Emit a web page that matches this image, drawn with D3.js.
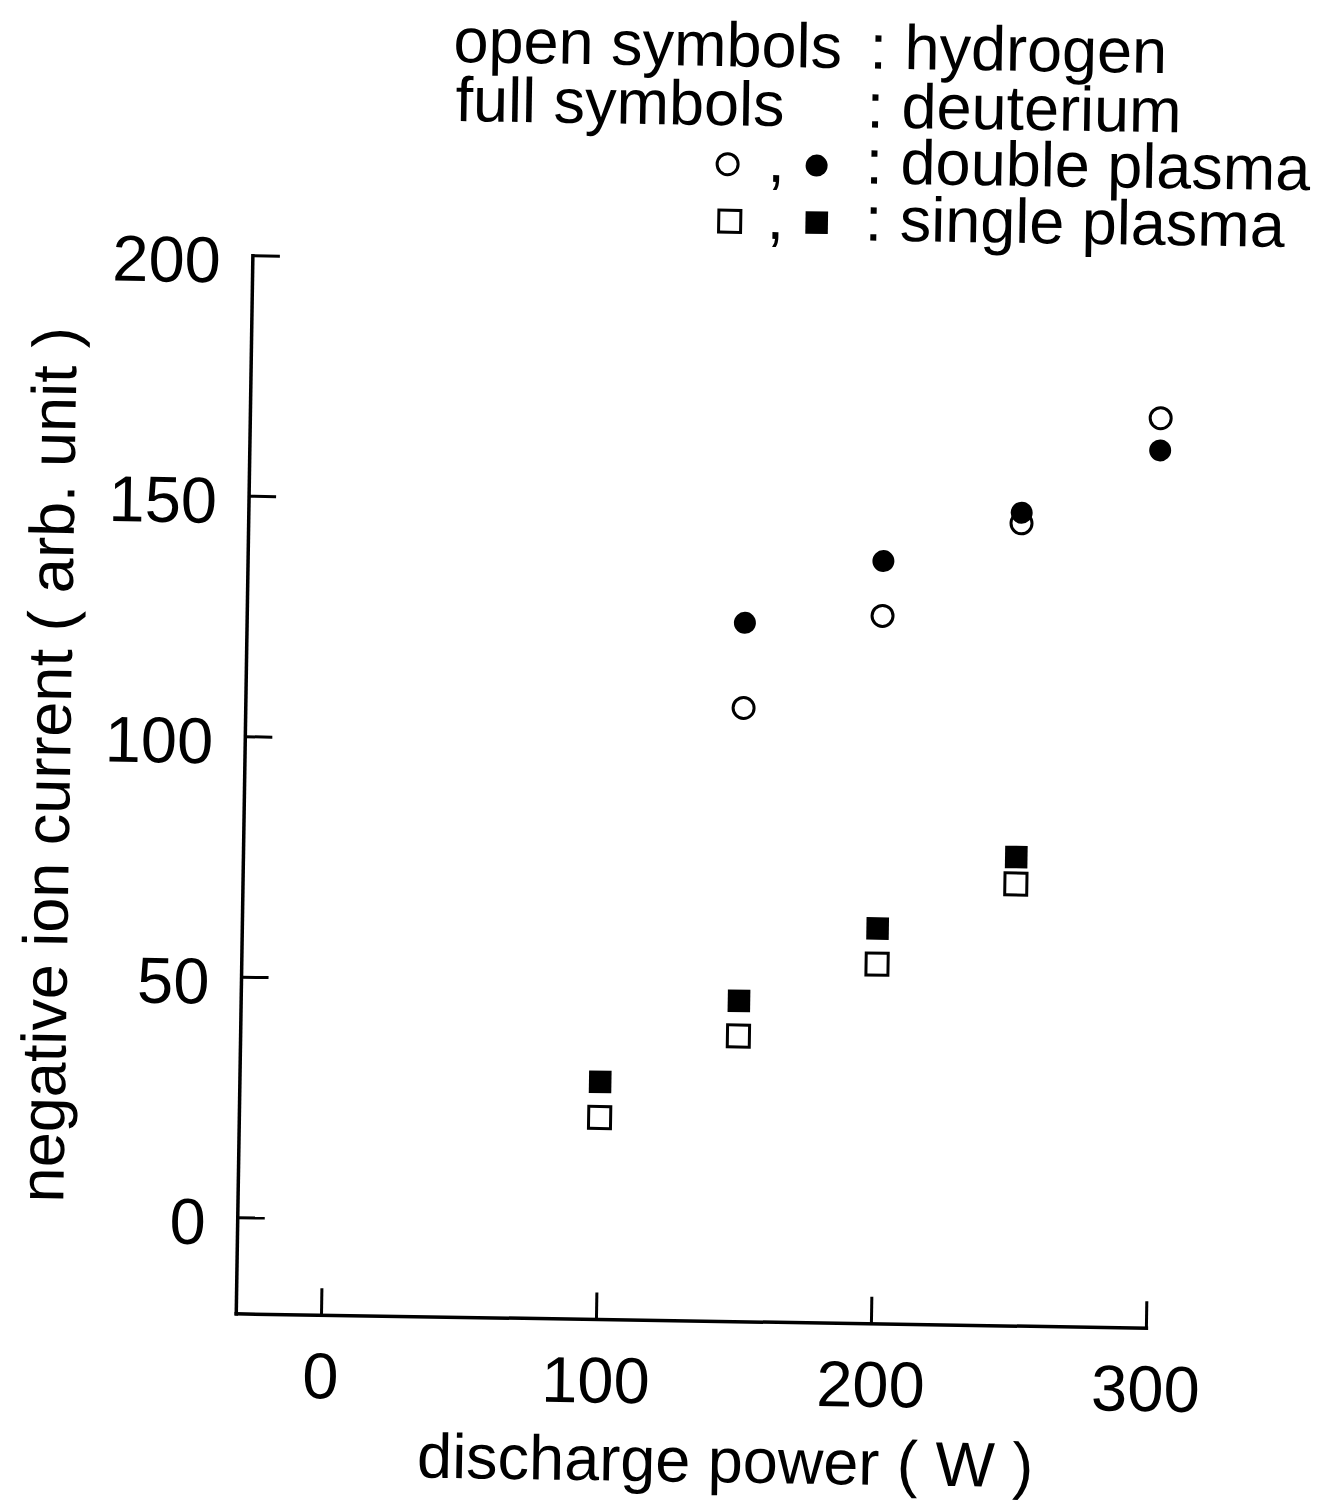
<!DOCTYPE html>
<html>
<head>
<meta charset="utf-8">
<script src="https://cdn.jsdelivr.net/npm/d3@7/dist/d3.min.js"></script>
<style>
  html, body { margin: 0; padding: 0; background: #fff; }
  svg { display: block; }
  text { font-family: "Liberation Sans", Arial, Helvetica, sans-serif; fill: #000; }
</style>
</head>
<body>
<div id="chart"></div>
<script>
// ---- data ----
const xTicks = [0, 100, 200, 300];
const yTicks = [0, 50, 100, 150, 200];
const powerDouble = [150, 200, 250, 300];
const hydrogenDouble = [107.6, 127.2, 146.9, 169.2];   // open circles
const deuteriumDouble = [125.3, 138.6, 149.1, 162.5];  // full circles
const powerSingle = [100, 150, 200, 250];
const hydrogenSingle = [22.0, 39.4, 54.8, 71.9];       // open squares
const deuteriumSingle = [29.4, 46.7, 62.2, 77.5];      // full squares
const xTitle = "discharge power ( W )";
const yTitle = "negative ion current ( arb. unit )";
const legendLines = [
  { left: "open symbols", right: ": hydrogen" },
  { left: "full symbols", right: ": deuterium" },
  { symbols: ["circle", "circle"], right: ": double plasma" },
  { symbols: ["square", "square"], right: ": single plasma" }
];

const W = 1328, H = 1506;
const svg = d3.select("#chart").append("svg").attr("width", W).attr("height", H);

const x = d3.scaleLinear().domain([0, 300]).range([323, 1148]);
const y = d3.scaleLinear().domain([0, 200]).range([1219, 257]);
const xMin = -31, yMin = -20;

// whole scanned page is slightly rotated
const g = svg.append("g").attr("transform", `rotate(0.9, ${x(0)}, ${y(0)})`);

const axisW = 3.5, tickLen = 27;
// left axis
g.append("line").attr("x1", x(xMin)).attr("x2", x(xMin))
  .attr("y1", y(200)).attr("y2", y(yMin))
  .attr("stroke", "#000").attr("stroke-width", axisW).attr("stroke-linecap", "square");
// bottom axis
g.append("line").attr("x1", x(xMin)).attr("x2", x(300))
  .attr("y1", y(yMin)).attr("y2", y(yMin))
  .attr("stroke", "#000").attr("stroke-width", axisW).attr("stroke-linecap", "square");

// y ticks (inward) and labels
g.selectAll(".yt").data(yTicks).join("line")
  .attr("x1", x(xMin)).attr("x2", x(xMin) + tickLen)
  .attr("y1", d => y(d)).attr("y2", d => y(d))
  .attr("stroke", "#000").attr("stroke-width", 3);
g.selectAll(".yl").data(yTicks).join("text")
  .attr("x", x(xMin) - 32).attr("y", d => y(d) + 27)
  .attr("text-anchor", "end").attr("font-size", 65)
  .text(d => d);

// x ticks (inward) and labels
g.selectAll(".xt").data(xTicks).join("line")
  .attr("x1", d => x(d)).attr("x2", d => x(d))
  .attr("y1", y(yMin)).attr("y2", y(yMin) - tickLen)
  .attr("stroke", "#000").attr("stroke-width", 3);
g.selectAll(".xl").data(xTicks).join("text")
  .attr("x", d => x(d)).attr("y", y(yMin) + 83)
  .attr("text-anchor", "middle").attr("font-size", 65)
  .text(d => d);

// axis titles
g.append("text").attr("x", 729).attr("y", 1476)
  .attr("text-anchor", "middle").attr("font-size", 63).text(xTitle);
g.append("text").attr("transform", "translate(63, 769) rotate(-90)")
  .attr("text-anchor", "middle").attr("font-size", 63).text(yTitle);

// markers
const rC = 10.5, side = 22;
function circles(xs, ys, filled) {
  g.append("g").selectAll("circle").data(xs.map((d, i) => [d, ys[i]])).join("circle")
    .attr("cx", d => x(d[0])).attr("cy", d => y(d[1]))
    .attr("r", filled ? 11 : rC)
    .attr("fill", filled ? "#000" : "#fff")
    .attr("stroke", filled ? "none" : "#000").attr("stroke-width", 3);
}
function squares(xs, ys, filled) {
  const s = filled ? 22.5 : side;
  g.append("g").selectAll("rect").data(xs.map((d, i) => [d, ys[i]])).join("rect")
    .attr("x", d => x(d[0]) - s / 2).attr("y", d => y(d[1]) - s / 2)
    .attr("width", s).attr("height", s)
    .attr("fill", filled ? "#000" : "#fff")
    .attr("stroke", filled ? "none" : "#000").attr("stroke-width", 3);
}
circles(powerDouble, hydrogenDouble, false);
circles(powerDouble, deuteriumDouble, true);
squares(powerSingle, hydrogenSingle, false);
squares(powerSingle, deuteriumSingle, true);

// legend
const lg = g.append("g").attr("font-size", 63);
const baselines = [60, 119, 175, 232];
const rightX = [851, 849, 849, 849];
legendLines.forEach((ln, i) => {
  if (ln.left) {
    lg.append("text").attr("x", i === 0 ? 435 : 438).attr("y", baselines[i]).text(ln.left);
  }
  if (ln.symbols) {
    const cy = baselines[i] - 17;
    if (ln.symbols[0] === "circle") {
      lg.append("circle").attr("cx", 711).attr("cy", cy).attr("r", rC)
        .attr("fill", "#fff").attr("stroke", "#000").attr("stroke-width", 3);
      lg.append("circle").attr("cx", 800).attr("cy", cy).attr("r", 11).attr("fill", "#000");
    } else {
      lg.append("rect").attr("x", 714 - side / 2).attr("y", cy - side / 2)
        .attr("width", side).attr("height", side)
        .attr("fill", "#fff").attr("stroke", "#000").attr("stroke-width", 3);
      lg.append("rect").attr("x", 801 - 11.25).attr("y", cy - 11.25)
        .attr("width", 22.5).attr("height", 22.5).attr("fill", "#000");
    }
    lg.append("text").attr("x", 751).attr("y", baselines[i]).text(",");
  }
  lg.append("text").attr("x", rightX[i]).attr("y", baselines[i]).text(ln.right);
});
</script>
</body>
</html>
